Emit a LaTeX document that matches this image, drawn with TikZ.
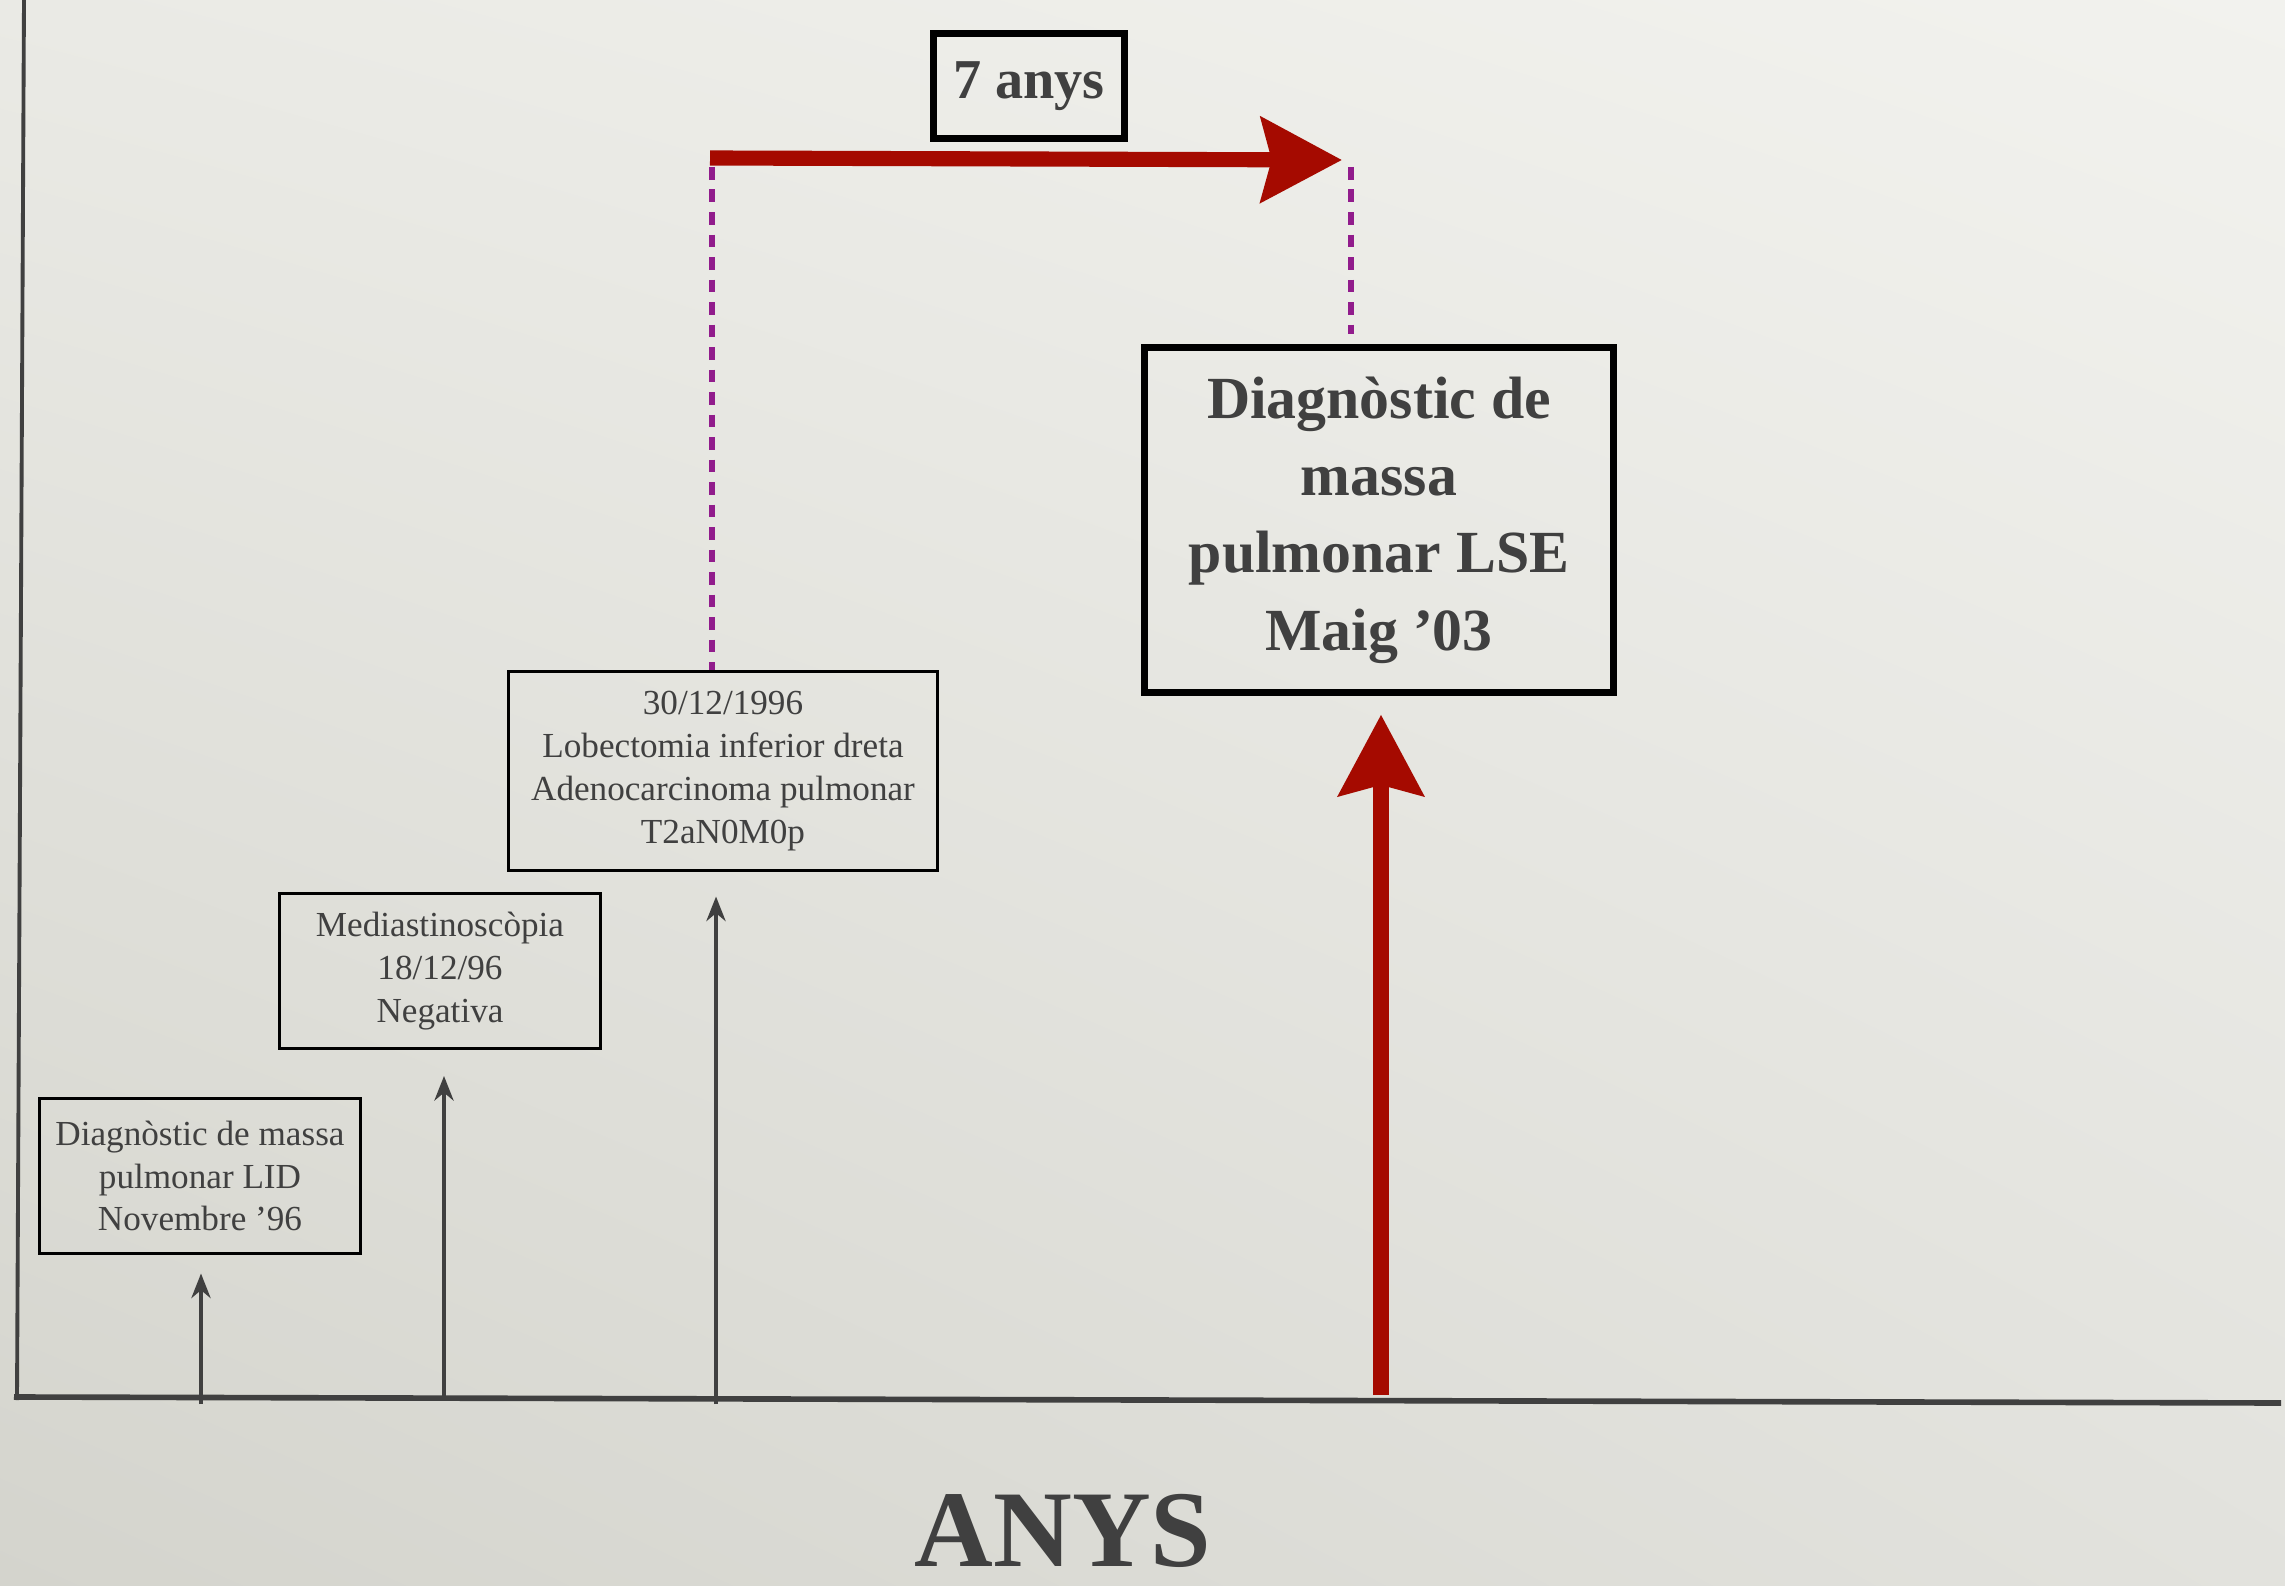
\documentclass[tikz,border=0pt]{standalone}
\usepackage{fontspec}
\setmainfont{Liberation Serif}
\usetikzlibrary{arrows.meta,shadings}

\definecolor{inkgrey}{RGB}{64,64,64}
\definecolor{darkred}{RGB}{165,10,0}
\definecolor{dashpurple}{RGB}{145,28,140}
\definecolor{bgul}{RGB}{234,234,229}
\definecolor{bgur}{RGB}{242,242,238}
\definecolor{bgll}{RGB}{212,212,205}
\definecolor{bglr}{RGB}{226,226,221}

\tikzset{event/.style={draw=black,line width=0.85pt,text=inkgrey,align=center,inner sep=0pt,font=\fontsize{10}{12.2}\selectfont}}
\tikzset{bigevent/.style={draw=black,line width=2pt,text=inkgrey,align=center,inner sep=0pt,font=\bfseries\fontsize{17}{22}\selectfont}}
\tikzset{eaxis/.style={inkgrey,line width=1.6pt}}
\tikzset{tick/.style={-{Stealth[length=7pt,width=5.5pt]},inkgrey,line width=0.9pt}}
\tikzset{bigarrow/.style={-{Stealth[length=23pt,width=24pt,inset=3pt]},darkred,line width=4.3pt}}
\tikzset{guide/.style={dashpurple,line width=1.5pt,dash pattern=on 3.6pt off 2.8pt}}

\begin{document}
\begin{tikzpicture}[x=0.01cm,y=-0.01cm]
        % background
        \shade[upper left=bgul,upper right=bgur,lower left=bgll,lower right=bglr] (0,0) rectangle (2285,1586);
        \useasboundingbox (0,0) rectangle (2285,1586);

        % draw the axis
        \draw[eaxis,line width=1.1pt] (24,0) -- (17,1400);
        \draw[eaxis] (14,1397) -- (2281,1403);
        \node[text=inkgrey,inner sep=0pt,font=\bfseries\fontsize{31}{31}\selectfont,anchor=base] (yrs) at (1063,1566) {ANYS};

        % events before the surgery
        \node[event,minimum width=3.21cm,minimum height=1.54cm] (b1) at (200,1176) {Diagnòstic de massa\\pulmonar LID\\Novembre ’96};
        \node[event,minimum width=3.20cm,minimum height=1.55cm] (b2) at (440,971) {Mediastinoscòpia\\18/12/96\\Negativa};
        \node[event,minimum width=4.29cm,minimum height=1.98cm] (b3) at (723,771) {30/12/1996\\Lobectomia inferior dreta\\Adenocarcinoma pulmonar\\T2aN0M0p};

        \coordinate (t1) at (201,1404);
        \coordinate (t2) at (444,1397);
        \coordinate (t3) at (716,1404);
        \draw[tick,shorten >=0.19cm] (t1) -- (t1 |- b1.south);
        \draw[tick,shorten >=0.26cm] (t2) -- (t2 |- b2.south);
        \draw[tick,shorten >=0.25cm] (t3) -- (t3 |- b3.south);

        % the relapse
        \node[bigevent,minimum width=4.68cm,minimum height=3.44cm] (big) at (1379,520) {Diagnòstic de\\massa\\pulmonar LSE\\Maig ’03};
        \coordinate (r0) at (1381,1395);
        \draw[bigarrow,shorten >=0.19cm] (r0) -- (r0 |- big.south);

        % time between both
        \node[bigevent,font=\bfseries\fontsize{16}{16}\selectfont,minimum width=1.9cm,minimum height=1.04cm] (gap) at (1029,86) {7 anys};
        \coordinate (h0) at (710,158);
        \coordinate (h1) at (1342,160);
        \draw[bigarrow] (h0) -- (h1);
        \coordinate (d1) at (712,167);
        \coordinate (d2) at (1351,167);
        \draw[guide] (d1) -- (d1 |- b3.north);
        \draw[guide,shorten >=0.1cm] (d2) -- (d2 |- big.north);
\end{tikzpicture}
\end{document}
